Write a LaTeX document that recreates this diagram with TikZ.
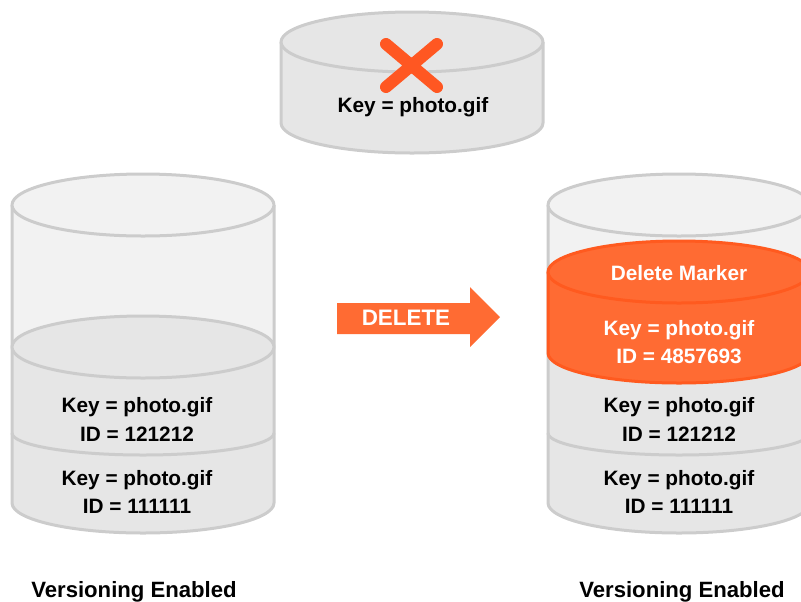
\documentclass[tikz,border=0pt]{standalone}
\usepackage{fontspec}
\setmainfont{Liberation Sans}
\definecolor{edge}{HTML}{CCCCCC}
\definecolor{lightg}{HTML}{F2F2F2}
\definecolor{midg}{HTML}{E6E6E6}
\definecolor{orfill}{HTML}{FF6B33}
\definecolor{oredge}{HTML}{FF5A1F}
\definecolor{xred}{HTML}{FF5722}
% #1 style, #2 cx, #3 ytop, #4 ybot, #5 rx, #6 ry (all in px)
\newcommand\cylbody[6]{%
  \path[#1] (#2-#5,#3) -- (#2-#5,#4)
    arc[start angle=180,end angle=360,x radius=#5*0.75pt,y radius=#6*0.75pt]
    -- (#2+#5,#3) -- cycle;}
\newcommand\cylout[6]{%
  \path[#1] (#2-#5,#3) -- (#2-#5,#4)
    arc[start angle=180,end angle=360,x radius=#5*0.75pt,y radius=#6*0.75pt]
    -- (#2+#5,#3);}
\newcommand\cylsep[5]{%
  \path[#1] (#2-#4,#3)
    arc[start angle=180,end angle=360,x radius=#4*0.75pt,y radius=#5*0.75pt];}
\begin{document}
\begin{tikzpicture}[x=0.75pt,y=-0.75pt,line join=round,
  edgeline/.style={draw=edge,line width=2.25pt},
  orline/.style={draw=oredge,line width=2.25pt},
  txt/.style={font=\fontsize{15.6}{18}\selectfont\bfseries,anchor=base,inner sep=0pt},
  wtxt/.style={txt,text=white},
  caption/.style={font=\fontsize{16.6}{19}\selectfont\bfseries,anchor=base,inner sep=0pt}]
\useasboundingbox (0,0) rectangle (801,601);
\clip (0,0) rectangle (801,601);

% ---------- top (deleted) cylinder ----------
\cylbody{fill=midg}{412}{42}{123}{131}{30}
\cylout{edgeline}{412}{42}{123}{131}{30}
\path[edgeline,fill=midg] (412,42) ellipse[x radius=131*0.75pt,y radius=30*0.75pt];
\node[txt] (topkey) at (413,112) {Key = photo.gif};
\coordinate (xa) at (386,44);
\coordinate (xb) at (437,87);
\coordinate (xc) at (437,44);
\coordinate (xd) at (386,87);
\draw[xred,line width=9pt,line cap=round] (xa) -- (xb) (xc) -- (xd);

% ---------- left cylinder ----------
\cylbody{fill=lightg}{143}{205}{347}{131}{31}
\cylbody{fill=midg}{143}{347}{503}{131}{30}
\cylout{edgeline}{143}{205}{503}{131}{30}
\path[edgeline,fill=lightg] (143,205) ellipse[x radius=131*0.75pt,y radius=31*0.75pt];
\path[edgeline,fill=midg] (143,347) ellipse[x radius=131*0.75pt,y radius=31*0.75pt];
\cylsep{edgeline}{143}{433}{131}{22}
\node[txt] (lk2) at (137,412) {Key = photo.gif};
\node[txt] (li2) at (137,441) {ID = 121212};
\node[txt] (lk1) at (137,485) {Key = photo.gif};
\node[txt] (li1) at (137,513) {ID = 111111};
\node[caption] (lcap) at (134,597) {Versioning Enabled};

% ---------- arrow ----------
\fill[orfill] (337,303) -- (470,303) -- (470,287) -- (500,317) -- (470,347) -- (470,334) -- (337,334) -- cycle;
\node[font=\fontsize{16.8}{19}\selectfont\bfseries,anchor=base,inner sep=0pt,text=white] (del) at (406,325) {DELETE};

% ---------- right cylinder ----------
\cylbody{fill=lightg}{679}{205}{352}{131}{30}
\cylbody{fill=midg}{679}{352}{503}{131}{30}
\cylout{edgeline}{679}{205}{503}{131}{30}
\path[edgeline,fill=lightg] (679,205) ellipse[x radius=131*0.75pt,y radius=31*0.75pt];
\cylbody{orline,fill=orfill}{679}{272}{353}{131}{30}
\path[orline,fill=orfill] (679,272) ellipse[x radius=131*0.75pt,y radius=31*0.75pt];
\cylsep{edgeline}{679}{433}{131}{22}
\node[wtxt] (dm) at (679,280) {Delete Marker};
\node[wtxt] (rk3) at (679,335) {Key = photo.gif};
\node[wtxt] (ri3) at (679,363) {ID = 4857693};
\node[txt] (rk2) at (679,412) {Key = photo.gif};
\node[txt] (ri2) at (679,441) {ID = 121212};
\node[txt] (rk1) at (679,485) {Key = photo.gif};
\node[txt] (ri1) at (679,513) {ID = 111111};
\node[caption] (rcap) at (682,597) {Versioning Enabled};
\end{tikzpicture}
\end{document}
